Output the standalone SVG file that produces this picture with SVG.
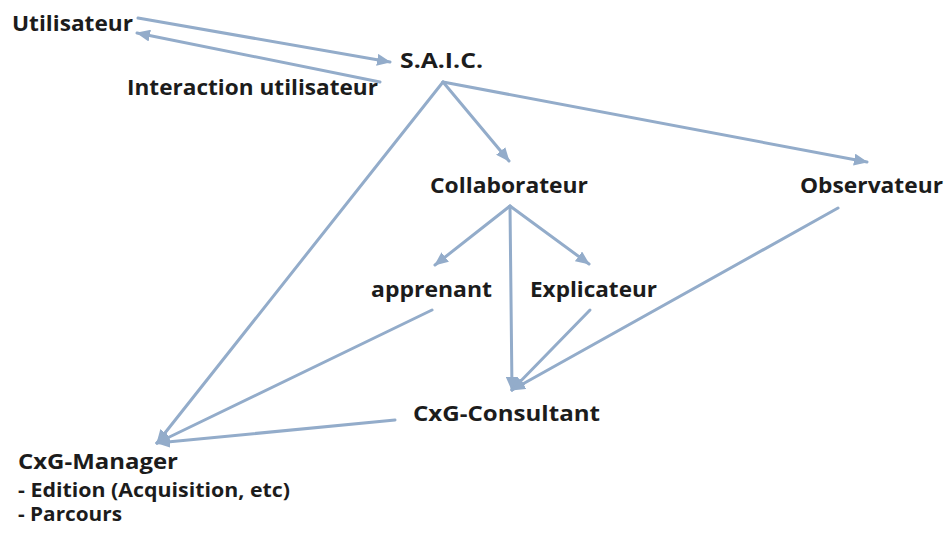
<svg xmlns="http://www.w3.org/2000/svg" width="946" height="546" viewBox="0 0 946 546">
<defs>
<marker id="ah" markerUnits="userSpaceOnUse" markerWidth="14" markerHeight="12" refX="13" refY="6" orient="auto">
<path d="M0,0 L14,6 L0,12 z" fill="#93acca"/>
</marker>
<style>
.t{font-family:"Open Sans","Liberation Sans",sans-serif;font-weight:700;font-size:21px;fill:#1c1c1c}
.s{font-size:19px}
.c line{stroke:#93acca;stroke-width:3;fill:none;stroke-linecap:round}
.a{marker-end:url(#ah)}
</style>
</defs>
<rect width="946" height="546" fill="#ffffff"/>
<g id="connectors" class="c">
<line class="a" x1="138" y1="18" x2="390" y2="62"/>
<line class="a" x1="380" y1="82" x2="137" y2="33"/>
<line class="a" x1="443" y1="82" x2="509" y2="161"/>
<line class="a" x1="443" y1="82" x2="867" y2="162"/>
<line class="a" x1="443" y1="82" x2="157" y2="443"/>
<line class="a" x1="510" y1="206" x2="435" y2="265"/>
<line class="a" x1="510" y1="206" x2="589" y2="264"/>
<line class="a" x1="510" y1="206" x2="512" y2="390"/>
<line class="a" x1="432" y1="310" x2="157" y2="443"/>
<line class="a" x1="590" y1="310" x2="512" y2="390"/>
<line class="a" x1="838" y1="208" x2="512" y2="390"/>
<line class="a" x1="395" y1="420" x2="157" y2="443"/>
</g>
<g id="utilisateur"><text class="t" x="12" y="31" textLength="121" lengthAdjust="spacingAndGlyphs">Utilisateur</text></g>
<g id="saic"><text class="t" x="400" y="68" textLength="83" lengthAdjust="spacingAndGlyphs">S.A.I.C.</text></g>
<g id="interaction"><text class="t" x="127" y="95" textLength="251" lengthAdjust="spacingAndGlyphs">Interaction utilisateur</text></g>
<g id="collaborateur"><text class="t" x="430" y="193" textLength="158" lengthAdjust="spacingAndGlyphs">Collaborateur</text></g>
<g id="observateur"><text class="t" x="800" y="193" textLength="143" lengthAdjust="spacingAndGlyphs">Observateur</text></g>
<g id="apprenant"><text class="t" x="371" y="297" textLength="121" lengthAdjust="spacingAndGlyphs">apprenant</text></g>
<g id="explicateur"><text class="t" x="530" y="297" textLength="127" lengthAdjust="spacingAndGlyphs">Explicateur</text></g>
<g id="consultant"><text class="t" x="413" y="421" textLength="187" lengthAdjust="spacingAndGlyphs">CxG-Consultant</text></g>
<g id="manager">
<text class="t" x="18" y="469" textLength="160" lengthAdjust="spacingAndGlyphs">CxG-Manager</text>
<text class="t s" x="18" y="497" textLength="272" lengthAdjust="spacingAndGlyphs">- Edition (Acquisition, etc)</text>
<text class="t s" x="18" y="521" textLength="104" lengthAdjust="spacingAndGlyphs">- Parcours</text>
</g>
</svg>
